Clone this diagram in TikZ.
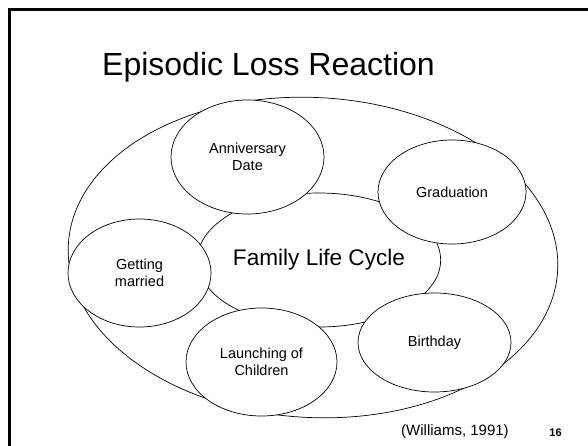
\documentclass[tikz,border=0pt]{standalone}
\usepackage{fontspec}
\setmainfont{Liberation Sans}
\usetikzlibrary{shapes.geometric}
\begin{document}
\begin{tikzpicture}[x=1pt,y=-1pt,
  bubble/.style={ellipse, draw, fill=white, line width=0.7pt, inner sep=0pt, align=center, font=\fontsize{14.5}{17}\selectfont},
  frameline/.style={line width=2.5pt}
]
\useasboundingbox (0,0) rectangle (588,445);
\fill[white] (0,0) rectangle (588,445);
\coordinate (fbl) at (9.5,446);
\coordinate (ftl) at (9.5,9.5);
\coordinate (ftr) at (589,9.5);
\draw[frameline] (fbl) -- (ftl) -- (ftr);
\node[font=\fontsize{32}{36}\selectfont, anchor=base] (title) at (268.5,75) {Episodic Loss Reaction};
\node[bubble, minimum width=490pt, minimum height=320pt, rotate=-3] (outer) at (313,257.5) {};
\node[bubble, minimum width=226pt, minimum height=134pt, font=\fontsize{22.6}{26}\selectfont] (flc) at (319,260) {Family Life Cycle};
\node[bubble, minimum width=153pt, minimum height=114pt] (ann) at (247.5,157) {Anniversary\\Date};
\node[bubble, minimum width=148pt, minimum height=104pt] (grad) at (452,192) {Graduation};
\node[bubble, minimum width=143pt, minimum height=108pt] (marr) at (139.5,273) {Getting\\married};
\node[bubble, minimum width=151pt, minimum height=108pt] (launch) at (261.5,362) {Launching of\\Children};
\node[bubble, minimum width=153pt, minimum height=99pt] (bday) at (434.5,342.5) {Birthday};
\node[font=\fontsize{15}{18}\selectfont, anchor=base] (cite) at (455,435) {(Williams, 1991)};
\node[font=\fontsize{11}{13}\selectfont\bfseries, anchor=base] (page) at (555.5,436) {16};
\end{tikzpicture}
\end{document}
